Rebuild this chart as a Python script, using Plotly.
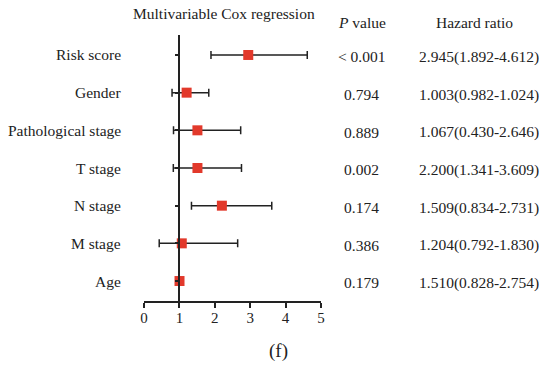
import plotly.graph_objects as go

# Multivariable Cox regression results, one entry per table row
variables = ["Risk score", "Gender", "Pathological stage", "T stage", "N stage", "M stage", "Age"]
p_values = ["< 0.001", "0.794", "0.889", "0.002", "0.174", "0.386", "0.179"]
hr = [2.945, 1.003, 1.067, 2.200, 1.509, 1.204, 1.510]
hr_low = [1.892, 0.982, 0.430, 1.341, 0.834, 0.792, 0.828]
hr_high = [4.612, 1.024, 2.646, 3.609, 2.731, 1.830, 2.754]

# Which table row's estimate is drawn on each forest-plot line (top to bottom)
forest_rows = [0, 5, 4, 6, 3, 2, 1]

x_ticks = [0, 1, 2, 3, 4, 5]

FONT = "Liberation Serif"
INK = "#222222"
RED = "#e2392b"

X_RANGE = [0, 5]
Y_RANGE = [0.47, 7.53]

n = len(variables)
ypos = list(range(n, 0, -1))  # top row highest

est = [hr[i] for i in forest_rows]
lo = [hr_low[i] for i in forest_rows]
hi = [hr_high[i] for i in forest_rows]

hr_text = [f"{h:.3f}({l:.3f}-{u:.3f})" for h, l, u in zip(hr, hr_low, hr_high)]


def px(xv):
    return (xv - X_RANGE[0]) / (X_RANGE[1] - X_RANGE[0])


def py(yv):
    return (yv - Y_RANGE[0]) / (Y_RANGE[1] - Y_RANGE[0])


fig = go.Figure()
fig.add_trace(go.Scatter(
    x=est, y=ypos, mode="markers",
    marker=dict(symbol="square", size=10, color=RED, line=dict(width=0)),
    error_x=dict(type="data", symmetric=False,
                 array=[u - e for u, e in zip(hi, est)],
                 arrayminus=[e - l for e, l in zip(est, lo)],
                 width=4, thickness=1.5, color=INK),
    showlegend=False, hoverinfo="skip",
))


def label(x, y, text, anchor="center", size=15.5):
    return dict(x=px(x), y=py(y), xref="paper", yref="paper", text=text,
                showarrow=False, xanchor=anchor, yanchor="middle",
                font=dict(family=FONT, size=size, color=INK))


annotations = []
for y, name, p, t in zip(ypos, variables, p_values, hr_text):
    annotations.append(label(-0.58, y, name, "right", 15.5))
    annotations.append(label(6.15, y - 0.05, p))
    annotations.append(label(7.72, y - 0.05, t, "left"))

annotations += [
    label(2.27, 8.09, "Multivariable Cox regression"),
    label(6.15, 7.85, "<i>P</i> value"),
    label(9.35, 7.85, "Hazard ratio"),
    label(3.79, -0.86, "(f)", size=19),
]

fig.update_layout(
    width=539, height=366,
    margin=dict(l=143.5, r=218, t=35, b=65),
    paper_bgcolor="white", plot_bgcolor="white",
    font=dict(family=FONT, color=INK),
    annotations=annotations,
    xaxis=dict(range=X_RANGE, tickvals=x_ticks, showgrid=False, zeroline=False,
               showline=True, linecolor=INK, linewidth=1.5,
               ticks="outside", ticklen=5, tickwidth=1.5, tickcolor=INK,
               ticklabelstandoff=-3,
               tickfont=dict(family=FONT, size=15, color=INK)),
    yaxis=dict(range=Y_RANGE, tickvals=ypos, showticklabels=False,
               showgrid=False, zeroline=False, anchor="free", position=0.2,
               showline=True, linecolor=INK, linewidth=1.5,
               ticks="outside", ticklen=4, tickwidth=1.5, tickcolor=INK),
)

fig.write_html("out.html")
